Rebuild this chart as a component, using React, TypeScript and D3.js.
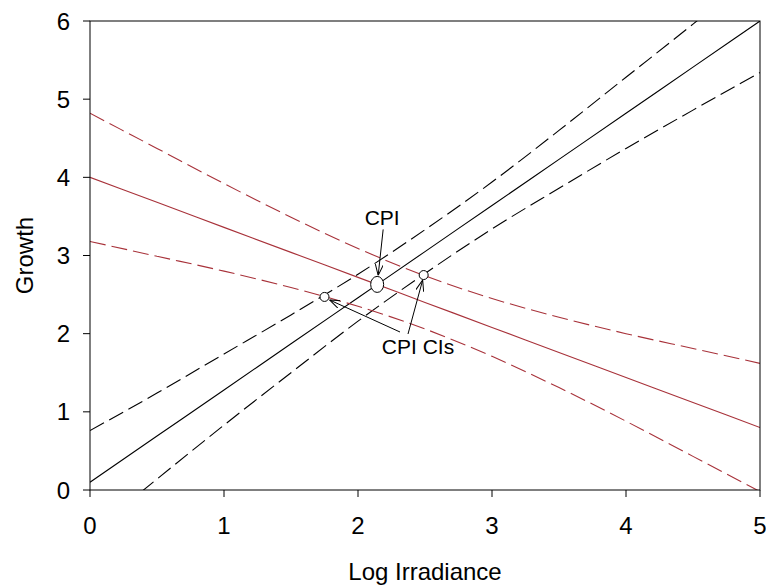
import React from "react";
import * as d3 from "d3";

// values (x = Log Irradiance)
const xValues = [0, 0.5, 1, 1.5, 2, 2.5, 3, 3.5, 4, 4.5, 5];
const blackFit = [0.1, 0.69, 1.28, 1.87, 2.46, 3.05, 3.64, 4.23, 4.82, 5.41, 6.0];
const blackUpper = [0.76, 1.24, 1.74, 2.24, 2.76, 3.33, 3.94, 4.6, 5.28, 5.96, 6.66];
const blackLower = [-0.56, 0.14, 0.83, 1.5, 2.16, 2.77, 3.34, 3.86, 4.37, 4.86, 5.34];
const redFit = [4.0, 3.68, 3.36, 3.04, 2.72, 2.4, 2.08, 1.76, 1.44, 1.12, 0.8];
const redUpper = [4.82, 4.37, 3.92, 3.49, 3.09, 2.74, 2.45, 2.21, 2.0, 1.81, 1.62];
const redLower = [3.18, 2.99, 2.8, 2.59, 2.35, 2.06, 1.71, 1.31, 0.88, 0.43, -0.02];

const xTicks = [0, 1, 2, 3, 4, 5];
const yTicks = [0, 1, 2, 3, 4, 5, 6];

const cpiPoint = [2.143, 2.63];
const ciPoints = [
  [1.75, 2.47],
  [2.49, 2.75],
];

const RED = "#a8323a";
const FONT = "'Liberation Sans', Arial, sans-serif";

const W = 766;
const H = 588;
const left = 90;
const right = 760;
const top = 21;
const bottom = 490;

export default function App() {
  const x = d3.scaleLinear().domain([0, 5]).range([left, right]);
  const y = d3.scaleLinear().domain([0, 6]).range([bottom, top]);

  const line = (vals: number[]) =>
    d3
      .line<number>()
      .x((_, i) => x(xValues[i]))
      .y((d) => y(d))
      .curve(d3.curveMonotoneX)(vals) || "";

  const series = [
    { vals: blackFit, color: "#000", dash: undefined },
    { vals: blackUpper, color: "#000", dash: "16,6" },
    { vals: blackLower, color: "#000", dash: "16,6" },
    { vals: redFit, color: RED, dash: undefined },
    { vals: redUpper, color: RED, dash: "16,6" },
    { vals: redLower, color: RED, dash: "16,6" },
  ];

  // annotation arrows: [fromX, fromY, toX, toY] in pixels around the data points
  const cpiX = x(cpiPoint[0]);
  const cpiY = y(cpiPoint[1]);
  const arrows = [
    [cpiX + 6, cpiY - 55, cpiX + 1, cpiY - 9],
    [400, 332, x(ciPoints[0][0]) + 5, y(ciPoints[0][1]) + 3],
    [408, 334, x(ciPoints[1][0]) - 1, y(ciPoints[1][1]) + 5],
  ];

  return (
    <svg
      width={W}
      height={H}
      style={{ position: "absolute", left: 0, top: 0, background: "#fff" }}
      fontFamily={FONT}
    >
      <defs>
        <clipPath id="plot">
          <rect x={left} y={top} width={right - left} height={bottom - top} />
        </clipPath>
        <marker
          id="arrow"
          viewBox="0 0 11 8"
          refX={11}
          refY={4}
          markerWidth={11}
          markerHeight={8}
          markerUnits="userSpaceOnUse"
          orient="auto"
        >
          <path d="M0,0 L11,4 L0,8" fill="none" stroke="#000" strokeWidth={1} />
        </marker>
      </defs>

      <g clipPath="url(#plot)">
        {series.map((s, i) => (
          <path
            key={i}
            d={line(s.vals)}
            fill="none"
            stroke={s.color}
            strokeWidth={1.1}
            strokeDasharray={s.dash}
          />
        ))}
      </g>

      {/* frame */}
      <rect
        x={left}
        y={top}
        width={right - left}
        height={bottom - top}
        fill="none"
        stroke="#000"
        strokeWidth={1}
      />

      {/* y axis */}
      {yTicks.map((t) => (
        <g key={"y" + t}>
          <line x1={left - 7} x2={left} y1={y(t)} y2={y(t)} stroke="#000" />
          <text x={70} y={y(t)} dy="0.36em" textAnchor="end" fontSize={24} fill="#000">
            {t}
          </text>
        </g>
      ))}

      {/* x axis */}
      {xTicks.map((t) => (
        <g key={"x" + t}>
          <line x1={x(t)} x2={x(t)} y1={bottom} y2={bottom + 7} stroke="#000" />
          <text x={x(t)} y={bottom + 44} textAnchor="middle" fontSize={24} fill="#000">
            {t}
          </text>
        </g>
      ))}

      <text x={(left + right) / 2} y={580} textAnchor="middle" fontSize={24} fill="#000">
        Log Irradiance
      </text>
      <text
        transform={`translate(33, ${(top + bottom) / 2}) rotate(-90)`}
        textAnchor="middle"
        fontSize={24}
        fill="#000"
      >
        Growth
      </text>

      {/* CPI annotations */}
      {arrows.map((a, i) => (
        <line
          key={"a" + i}
          x1={a[0]}
          y1={a[1]}
          x2={a[2]}
          y2={a[3]}
          stroke="#000"
          strokeWidth={1}
          markerEnd="url(#arrow)"
        />
      ))}
      <ellipse cx={cpiX} cy={cpiY} rx={6.5} ry={8} fill="#fff" stroke="#000" />
      {ciPoints.map((p, i) => (
        <circle key={"c" + i} cx={x(p[0])} cy={y(p[1])} r={4.5} fill="#fff" stroke="#000" />
      ))}
      <text x={cpiX + 5} y={cpiY - 59} textAnchor="middle" fontSize={21} fill="#000">
        CPI
      </text>
      <text x={418} y={354} textAnchor="middle" fontSize={21} fill="#000">
        CPI CIs
      </text>
    </svg>
  );
}
